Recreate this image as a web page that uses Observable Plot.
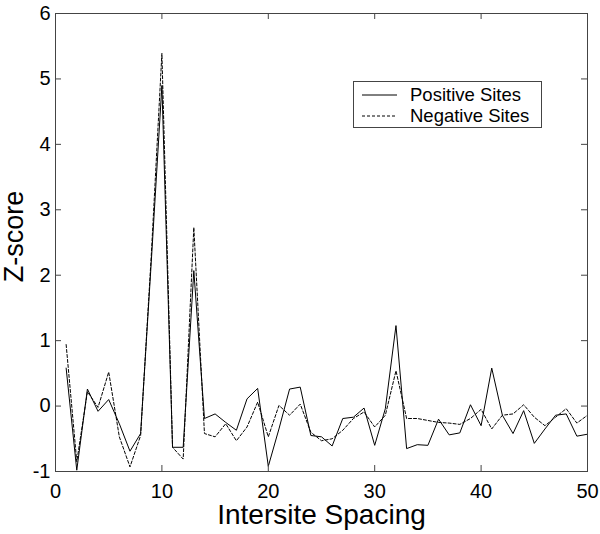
<!DOCTYPE html>
<html>
<head>
<meta charset="utf-8">
<script src="https://cdn.jsdelivr.net/npm/d3@7"></script>
<script src="https://cdn.jsdelivr.net/npm/@observablehq/plot@0.6"></script>
<style>
  html, body { margin: 0; padding: 0; background: #fff; }
  #wrap { position: relative; width: 600px; height: 534px; font-family: "Liberation Sans", Arial, sans-serif; }
  #legend { position: absolute; left: 353px; top: 81px; width: 189px; height: 47px; border: 1px solid #444; background: #fff; box-sizing: border-box; }
</style>
</head>
<body>
<div id="wrap"></div>
<script>
const spacing = d3.range(1, 51);
const positiveSites = [0.58, -0.98, 0.26, -0.08, 0.10, -0.27, -0.69, -0.42, 2.2, 4.9,
  -0.63, -0.63, 2.07, -0.19, -0.12, -0.25, -0.37, 0.11, 0.27, -0.92,
  -0.35, 0.26, 0.29, -0.45, -0.47, -0.61, -0.19, -0.17, -0.03, -0.60,
  -0.04, 1.23, -0.65, -0.59, -0.60, -0.20, -0.44, -0.41, 0.02, -0.30,
  0.58, -0.14, -0.42, -0.07, -0.57, -0.35, -0.14, -0.12, -0.46, -0.43];
const negativeSites = [0.94, -0.85, 0.22, -0.02, 0.52, -0.47, -0.93, -0.45, 2.3, 5.39,
  -0.63, -0.81, 2.73, -0.42, -0.47, -0.27, -0.53, -0.32, 0.06, -0.47,
  0.01, -0.14, 0.03, -0.40, -0.53, -0.50, -0.37, -0.19, -0.09, -0.32,
  -0.14, 0.54, -0.19, -0.19, -0.22, -0.25, -0.26, -0.28, -0.19, -0.05,
  -0.35, -0.14, -0.12, 0.02, -0.17, -0.30, -0.17, -0.04, -0.26, -0.14];
const xTicks = [0, 10, 20, 30, 40, 50];
const yTicks = [-1, 0, 1, 2, 3, 4, 5, 6];
const seriesNames = ["Positive Sites", "Negative Sites"];
const xTitle = "Intersite Spacing";
const yTitle = "Z-score";

const pos = spacing.map((x, i) => ({x, y: positiveSites[i]}));
const neg = spacing.map((x, i) => ({x, y: negativeSites[i]}));

const W = 600, H = 534, mL = 55, mR = 13, mT = 13, mB = 63;
const innerW = W - mL - mR, innerH = H - mT - mB, tk = 6;

const chart = Plot.plot({
  width: W, height: H,
  marginLeft: mL, marginRight: mR, marginTop: mT, marginBottom: mB,
  style: {fontFamily: "'Liberation Sans', Arial, sans-serif", background: "#fff", color: "#000"},
  x: {domain: [0, 50]},
  y: {domain: [-1, 6]},
  marks: [
    Plot.lineY(neg, {x: "x", y: "y", stroke: "#000", strokeWidth: 1, strokeDasharray: "3,2"}),
    Plot.lineY(pos, {x: "x", y: "y", stroke: "#000", strokeWidth: 1}),
    Plot.frame({stroke: "#444", strokeWidth: 1}),
    Plot.tickX(xTicks, {x: d => d, insetTop: innerH - tk, stroke: "#444"}),
    Plot.tickX(xTicks, {x: d => d, insetBottom: innerH - tk, stroke: "#444"}),
    Plot.tickY(yTicks, {y: d => d, insetLeft: innerW - tk, stroke: "#444"}),
    Plot.tickY(yTicks, {y: d => d, insetRight: innerW - tk, stroke: "#444"}),
    Plot.axisX(xTicks, {tickSize: 0, tickPadding: 12, fontSize: 20, label: null, tickFormat: d => String(d)}),
    Plot.axisY(yTicks, {tickSize: 0, tickPadding: 5, fontSize: 20, label: null, tickFormat: d => String(d)}),
    Plot.text([xTitle], {frameAnchor: "bottom", dy: 44, fontSize: 28, lineAnchor: "middle"}),
    Plot.text([yTitle], {frameAnchor: "left", dx: -41, dy: -6, rotate: -90, fontSize: 27, textAnchor: "middle", lineAnchor: "middle"})
  ]
});

const wrap = document.getElementById("wrap");
wrap.appendChild(chart);

const legend = document.createElement("div");
legend.id = "legend";
const ns = "http://www.w3.org/2000/svg";
const lsvg = document.createElementNS(ns, "svg");
lsvg.setAttribute("width", "187");
lsvg.setAttribute("height", "45");
lsvg.style.display = "block";
const styles = [null, "3,2"];
seriesNames.forEach((name, i) => {
  const yy = 13 + i * 21;
  const ln = document.createElementNS(ns, "line");
  ln.setAttribute("x1", 8); ln.setAttribute("x2", 43);
  ln.setAttribute("y1", yy); ln.setAttribute("y2", yy);
  ln.setAttribute("stroke", "#000");
  if (styles[i]) ln.setAttribute("stroke-dasharray", styles[i]);
  lsvg.appendChild(ln);
  const t = document.createElementNS(ns, "text");
  t.setAttribute("x", 56); t.setAttribute("y", yy);
  t.setAttribute("dy", "0.35em");
  t.setAttribute("font-size", "18.5");
  t.setAttribute("font-family", "'Liberation Sans', Arial, sans-serif");
  t.textContent = name;
  lsvg.appendChild(t);
});
legend.appendChild(lsvg);
wrap.appendChild(legend);
</script>
</body>
</html>
